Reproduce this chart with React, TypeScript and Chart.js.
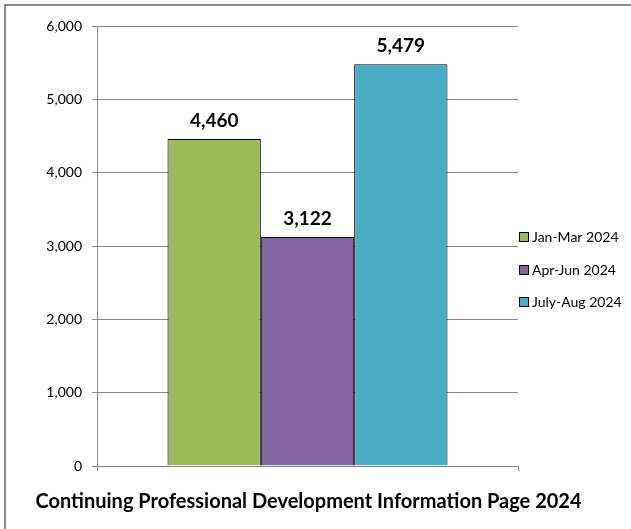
import React, { useEffect, useRef } from "react";
import { Chart, registerables } from "chart.js";

Chart.register(...registerables);

const categories = ["Continuing Professional Development Information Page 2024"];
const seriesLabels = ["Jan-Mar 2024", "Apr-Jun 2024", "July-Aug 2024"];
const seriesValues = [4460, 3122, 5479];
const seriesColors = ["#9BBB59", "#8064A2", "#4BACC6"];
const yTicks = [0, 1000, 2000, 3000, 4000, 5000, 6000];
const titleText = "Continuing Professional Development Information Page 2024";

const FONT = "Lato, 'Noto Sans', sans-serif";
const GRID = "#868686";

const fmt = (v: number) => v.toLocaleString("en-US");

const borderPlugin = {
  id: "outerBorder",
  beforeDraw(chart: any) {
    const ctx = chart.ctx;
    ctx.save();
    ctx.fillStyle = "#ffffff";
    ctx.fillRect(0, 0, chart.width, chart.height);
    ctx.strokeStyle = "#8a8a8a";
    ctx.lineWidth = 2;
    ctx.beginPath();
    ctx.moveTo(5, chart.height + 5);
    ctx.lineTo(5, 5);
    ctx.lineTo(chart.width + 5, 5);
    ctx.stroke();
    ctx.restore();
  },
};

const labelPlugin = {
  id: "valueLabels",
  afterDatasetsDraw(chart: any) {
    const ctx = chart.ctx;
    ctx.save();
    ctx.font = `bold 19px ${FONT}`;
    ctx.fillStyle = "#000";
    ctx.textAlign = "center";
    ctx.textBaseline = "alphabetic";
    chart.data.datasets.forEach((ds: any, i: number) => {
      const meta = chart.getDatasetMeta(i);
      meta.data.forEach((el: any, j: number) => {
        ctx.fillText(fmt(ds.data[j]), el.x, el.y - 12);
      });
    });
    ctx.restore();
  },
};

const titlePlugin = {
  id: "bottomTitle",
  afterDraw(chart: any) {
    const ctx = chart.ctx;
    ctx.save();
    ctx.font = `bold 20px ${FONT}`;
    ctx.fillStyle = "#000";
    ctx.textAlign = "center";
    ctx.textBaseline = "alphabetic";
    ctx.fillText(titleText, 308.5, 507.5);
    ctx.restore();
  },
};

const legendPlugin = {
  id: "sideLegend",
  afterDraw(chart: any) {
    const ctx = chart.ctx;
    const x = chart.chartArea.right + 1;
    const startY = 237;
    const step = 32.7;
    ctx.save();
    ctx.font = `14px ${FONT}`;
    ctx.textBaseline = "middle";
    ctx.textAlign = "left";
    chart.data.datasets.forEach((ds: any, i: number) => {
      const cy = Math.round(startY + i * step);
      ctx.fillStyle = ds.backgroundColor;
      ctx.fillRect(x, cy - 5, 10, 10);
      ctx.strokeStyle = "#000";
      ctx.lineWidth = 1;
      ctx.strokeRect(x + 0.5, cy - 4.5, 9, 9);
      ctx.fillStyle = "#000";
      ctx.fillText(ds.label, x + 13, cy);
    });
    ctx.restore();
  },
};

export default function App() {
  const ref = useRef<HTMLCanvasElement>(null);
  useEffect(() => {
    const chart = new Chart(ref.current as HTMLCanvasElement, {
      type: "bar",
      data: {
        labels: categories,
        datasets: seriesLabels.map((label, i) => ({
          label,
          data: [seriesValues[i]],
          backgroundColor: seriesColors[i],
          borderColor: "#000",
          borderWidth: 1,
          categoryPercentage: 0.665,
          barPercentage: 1,
        })),
      },
      options: {
        animation: false,
        responsive: false,
        maintainAspectRatio: false,
        layout: { padding: { left: 0, right: 113, top: 26, bottom: 53 } },
        plugins: {
          legend: { display: false },
          tooltip: { enabled: false },
          title: { display: false },
        },
        scales: {
          x: {
            grid: {
              display: true,
              drawOnChartArea: false,
              drawTicks: true,
              tickLength: 5,
              offset: true,
              color: GRID,
            },
            border: { color: GRID },
            ticks: { display: false },
            afterFit: (s: any) => {
              s.height = 10;
            },
          },
          y: {
            min: 0,
            max: 6000,
            afterBuildTicks: (s: any) => {
              s.ticks = yTicks.map((v) => ({ value: v }));
            },
            grid: { color: GRID, tickLength: 5, drawTicks: true },
            border: { color: GRID },
            ticks: {
              color: "#000",
              padding: 10,
              font: { family: FONT, size: 14 },
              callback: (v: any) => fmt(Number(v)),
            },
            afterFit: (s: any) => {
              s.width = 97;
            },
          },
        },
      },
      plugins: [borderPlugin, labelPlugin, titlePlugin, legendPlugin],
    } as any);
    return () => chart.destroy();
  }, []);
  return (
    <div style={{ position: "fixed", left: 0, top: 0, width: 631, height: 529 }}>
      <canvas ref={ref} width={631} height={529} style={{ display: "block" }} />
    </div>
  );
}
